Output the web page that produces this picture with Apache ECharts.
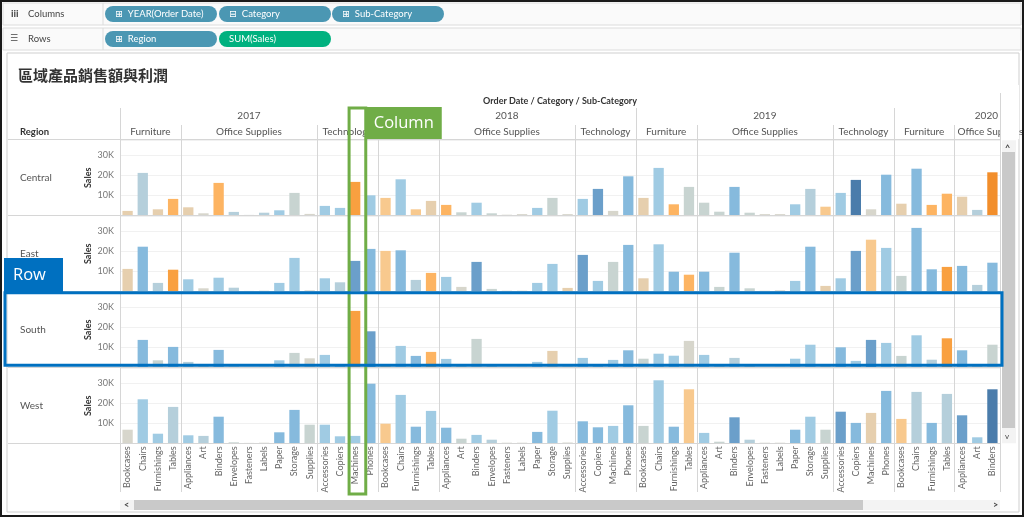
<!DOCTYPE html>
<html><head><meta charset="utf-8">
<script src="https://cdn.jsdelivr.net/npm/echarts@6/dist/echarts.min.js"></script>
<style>html,body{margin:0;padding:0;background:#fff}#c{width:1024px;height:517px}</style>
</head><body><div id="c"></div>
<script>
// ---------------- data ----------------
const years = ['2017', '2018', '2019', '2020'];
const furnitureSubs = ['Bookcases', 'Chairs', 'Furnishings', 'Tables'];
const officeSubs = ['Appliances', 'Art', 'Binders', 'Envelopes', 'Fasteners', 'Labels', 'Paper', 'Storage', 'Supplies'];
const techSubs = ['Accessories', 'Copiers', 'Machines', 'Phones'];
const categoryGroups = [['Furniture', furnitureSubs], ['Office Supplies', officeSubs], ['Technology', techSubs]];
const regions = ['Central', 'East', 'South', 'West'];
const visibleColumnCount = 58; // view is scrolled: 2017-2019 full, 2020 up to Binders
const yTickLabels = ['10K', '20K', '30K'];
const yMax = 37500;

// Sales per visible column (2017 x17, 2018 x17, 2019 x17, 2020 x7)
const salesCentral = [
  2200, 21200, 3000, 8200, 4000, 1000, 16200, 1700, 200, 1300, 2500, 11200, 700, 4700, 3700, 16700, 10000,
  8700, 18000, 3000, 7200, 5200, 1500, 6300, 1000, 300, 600, 3700, 8700, 600, 8200, 13200, 2200, 19500,
  8700, 23700, 5500, 14200, 6300, 1800, 14200, 1300, 600, 600, 5500, 13200, 4300, 11200, 17700, 3000, 20300,
  5800, 23300, 5200, 10800, 9300, 2700, 21500];
const salesEast = [
  11200, 22300, 4200, 10800, 6000, 1500, 6800, 1800, 200, 300, 4200, 16700, 500, 6500, 4500, 15200, 21200,
  20200, 20500, 5700, 9200, 7200, 2200, 14700, 1200, 300, 300, 4200, 13700, 1700, 18200, 5200, 14700, 23200,
  6500, 23500, 9800, 8300, 9800, 2200, 19300, 1500, 300, 500, 5200, 22300, 2700, 6500, 20200, 25800, 21700,
  7700, 31700, 11000, 12200, 12700, 3200, 14300];
const salesSouth = [
  500, 13700, 3500, 10200, 2700, 800, 8700, 500, 200, 300, 3500, 7200, 4500, 6200, 1000, 28200, 18000,
  1000, 10700, 5700, 7700, 4200, 1000, 14200, 700, 200, 300, 2700, 8200, 500, 4700, 1000, 3700, 8500,
  4300, 6800, 5800, 13200, 6200, 1000, 4700, 700, 200, 300, 4300, 11300, 800, 10000, 3200, 13700, 12200,
  5700, 16000, 3800, 14500, 8500, 1000, 11300];
const salesWest = [
  6800, 22000, 4800, 18200, 4000, 3700, 13300, 500, 200, 300, 5500, 16700, 9300, 9300, 3500, 3700, 29800,
  9800, 24200, 8300, 16200, 7800, 2300, 4200, 1800, 300, 300, 5700, 16300, 400, 11000, 8000, 8700, 19000,
  8700, 31500, 8300, 27000, 5200, 800, 13000, 1800, 300, 300, 6800, 13300, 6800, 15800, 10200, 15200, 26200,
  12200, 25700, 10200, 24700, 14000, 3000, 27000];

// Profit level (negative = orange, positive = blue)
const profitCentral = [
  -1, 2, -1, -3, -1, 0, -3, 2, 1, 2, 3, 1, 0, 3, 3, -4, 3,
  -2, 3, -2, -1, -3, 1, 3, 1, 0, 0, 3, 1, 0, 3, 5, 0, 4,
  -1, 3, -3, 1, 1, 1, 4, 1, 0, 0, 3, 2, -2, 3, 6, 0, 4,
  -1, 4, -3, -3, -1, 2, -5];
const profitEast = [
  -1, 4, 2, -4, 3, 0, 3, 2, 1, 1, 3, 3, 0, 3, 2, 5, 4,
  -2, 4, 2, -3, 3, 0, 5, 1, 0, 0, 3, 3, -1, 5, 3, 1, 4,
  -1, 3, 4, -3, 4, 1, 4, 1, 0, 0, 3, 4, -1, 3, 5, -2, 3,
  1, 4, 4, -4, 4, 2, 4];
const profitSouth = [
  0, 4, 1, 4, 2, 0, 4, 1, 0, 0, 3, 1, 0, 3, 3, -4, 5,
  -2, 3, 4, -3, 3, 1, 1, 1, 0, 0, 3, -1, 0, 3, 3, 3, 4,
  1, 3, 3, 0, 3, 1, 2, 1, 0, 0, 3, 3, 0, 4, 3, 5, 3,
  1, 3, 2, -4, 4, 1, 1];
const profitWest = [
  0, 3, 3, 2, 3, 2, 4, 1, 0, 0, 4, 4, 1, 3, 3, 3, 4,
  -2, 3, 4, 3, 4, 1, 3, 2, 0, 0, 4, 3, 0, 4, 4, 3, 4,
  1, 3, 4, -2, 3, 1, 5, 2, 0, 0, 4, 3, 1, 5, 4, -1, 4,
  -2, 2, 4, 2, 5, 3, 6];
const profitMin = -5, profitMax = 6;
const profitColors = ['#f28e2b', '#f9a040', '#fdb462', '#f8c98e', '#e6cfae', '#d7d6cc',
  '#c8d4d1', '#b5cfdb', '#a0cbe3', '#86badd', '#6b9fca', '#4a7cab'];

const salesByRegion = [salesCentral, salesEast, salesSouth, salesWest];
const profitByRegion = [profitCentral, profitEast, profitSouth, profitWest];

// ---------------- build ----------------
const allColumns = [];
years.forEach(y => categoryGroups.forEach(([cat, subs]) => subs.forEach(s => allColumns.push({ year: y, cat, sub: s }))));
const columns = allColumns.slice(0, visibleColumnCount);
const keys = columns.map(c => c.year + '|' + c.cat + '|' + c.sub);

const FONT = 'Lato, "Noto Sans", "DejaVu Sans", sans-serif';
const plotLeft = 120, plotWidth = 880, firstTop = 140.3, rowStep = 76, rowHeight = 75;

const chart = echarts.init(document.getElementById('c'));
const option = {
  animation: false,
  backgroundColor: '#ffffff',
  textStyle: { fontFamily: FONT },
  grid: regions.map((r, i) => ({ left: plotLeft, width: plotWidth, top: firstTop + i * rowStep, height: rowHeight })),
  xAxis: regions.map((r, i) => ({
    gridIndex: i, type: 'category', data: keys,
    axisLine: { show: false }, axisTick: { show: false }, splitLine: { show: false },
    axisLabel: {
      show: i === regions.length - 1, interval: 0, rotate: 90, fontSize: 9, color: '#666', margin: 3,
      fontFamily: FONT, formatter: k => k.split('|')[2]
    }
  })),
  yAxis: regions.map((r, i) => ({
    gridIndex: i, type: 'value', min: 0, max: yMax, interval: 10000,
    name: 'Sales', nameLocation: 'middle', nameGap: 27, nameRotate: 90, nameMoveOverlap: false,
    nameTextStyle: { fontWeight: 'bold', fontSize: 9, color: '#333', fontFamily: FONT },
    axisLine: { show: false }, axisTick: { show: false },
    axisLabel: {
      fontSize: 9, color: '#777', margin: 6, showMinLabel: false, showMaxLabel: false, fontFamily: FONT,
      formatter: v => { const k = yTickLabels.indexOf((v / 1000) + 'K'); return k >= 0 ? yTickLabels[k] : ''; }
    },
    splitLine: { lineStyle: { color: '#f1f1f1', width: 1 } }
  })),
  visualMap: {
    type: 'continuous', show: false, dimension: 2, min: profitMin, max: profitMax,
    seriesIndex: regions.map((r, i) => i), inRange: { color: profitColors }
  },
  series: regions.map((r, i) => ({
    name: r, type: 'bar', xAxisIndex: i, yAxisIndex: i, barWidth: '68%',
    encode: { x: 0, y: 1 },
    data: salesByRegion[i].map((v, j) => [j, v, profitByRegion[i][j]])
  }))
};
chart.setOption(option);

// ---------------- overlay (header, shelves, annotations) ----------------
function txt(text, x, y, o) {
  o = o || {};
  return {
    type: 'text', z: o.z || 10, silent: true,
    style: {
      text, x, y, fill: o.fill || '#555', fontSize: o.size || 10, fontWeight: o.bold ? 'bold' : 'normal',
      fontFamily: o.font || FONT, textAlign: o.align || 'left', align: o.align || 'left',
      textVerticalAlign: 'middle', verticalAlign: 'middle'
    }
  };
}
function line(x1, y1, x2, y2, color, w, z) {
  return { type: 'line', z: z || 5, silent: true, shape: { x1, y1, x2, y2 }, style: { stroke: color, lineWidth: w || 1 } };
}
function rect(x, y, w, h, fill, stroke, lw, z, r) {
  return { type: 'rect', z: z || 1, silent: true, shape: { x, y, width: w, height: h, r: r || 0 },
    style: { fill: fill || 'none', stroke: stroke || 'none', lineWidth: lw || 1 } };
}
function spans(keyFn) {
  const out = [];
  columns.forEach((c, j) => {
    const k = keyFn(c);
    if (!out.length || out[out.length - 1].key !== k) out.push({ key: k, start: j, end: j, c });
    else out[out.length - 1].end = j;
  });
  out.forEach(s => {
    const nxt = allColumns[s.end + 1];
    s.truncated = s.end === columns.length - 1 && nxt && keyFn(nxt) === s.key;
  });
  return out;
}

function buildOverlay() {
  const band = chart.convertToPixel({ xAxisIndex: 0 }, 1) - chart.convertToPixel({ xAxisIndex: 0 }, 0);
  const edge = j => chart.convertToPixel({ xAxisIndex: 0 }, j) - band / 2;
  const rightEdge = edge(columns.length - 1) + band;
  const rowTop = i => chart.convertToPixel({ yAxisIndex: i }, yMax);
  const rowBase = i => chart.convertToPixel({ yAxisIndex: i }, 0);
  const labelBottom = 492;
  const g = [];

  // frames & shelves
  g.push(rect(1, 1, 1022, 515, 'none', '#1a1a1a', 2, 30));
  g.push(rect(3, 3, 1018, 22, '#fafafa', '#dcdcdc', 1, 0));
  g.push(rect(3, 28, 1018, 22, '#fafafa', '#dcdcdc', 1, 0));
  g.push(line(103, 3, 103, 25, '#dcdcdc'));
  g.push(line(103, 28, 103, 50, '#dcdcdc'));
  g.push(rect(7, 53, 1012, 459, 'none', '#cfcfcf', 1, 0));
  g.push(txt('iii', 11, 14, { fill: '#444', size: 10, bold: true }));
  g.push(txt('Columns', 28, 14, { fill: '#444', size: 9.5 }));
  g.push(txt('\u2630', 10, 39, { fill: '#444', size: 9, font: '"DejaVu Sans"' }));
  g.push(txt('Rows', 28, 39, { fill: '#444', size: 9.5 }));
  const pills = [
    ['\u229E  YEAR(Order Date)', 105, 6, '#4b97b3'], ['\u229F  Category', 219, 6, '#4b97b3'], ['\u229E  Sub-Category', 332, 6, '#4b97b3'],
    ['\u229E  Region', 105, 31, '#4b97b3'], ['SUM(Sales)', 219, 31, '#00b17f']
  ];
  pills.forEach(([t, x, y, c]) => {
    g.push(rect(x, y, 112, 16, c, 'none', 1, 2, 8));
    g.push(txt(t, x + 10, y + 8, { fill: '#ffffff', size: 9.5, z: 12, font: 'Lato, "DejaVu Sans", sans-serif' }));
  });

  // title
  g.push(txt('區域產品銷售額與利潤', 18, 75, { fill: '#333', size: 15, bold: true, font: '"Noto Sans CJK TC", sans-serif' }));

  // headers
  g.push(txt('Order Date / Category / Sub-Category', (plotLeft + rightEdge) / 2, 101, { fill: '#333', size: 9, bold: true, align: 'center' }));
  g.push(txt('Region', 20, 132, { fill: '#333', size: 9.5, bold: true }));
  spans(c => c.year).forEach(s => {
    if (s.truncated) g.push(txt(s.c.year, rightEdge - 2, 116, { size: 10, align: 'right' }));
    else g.push(txt(s.c.year, (edge(s.start) + edge(s.end) + band) / 2, 116, { size: 10, align: 'center' }));
  });
  spans(c => c.year + '|' + c.cat).forEach(s => {
    if (s.truncated) g.push(txt(s.c.cat, edge(s.start) + 3, 132, { size: 10 }));
    else g.push(txt(s.c.cat, (edge(s.start) + edge(s.end) + band) / 2, 132, { size: 10, align: 'center' }));
    const yearStart = s.start === 0 || columns[s.start - 1].year !== s.c.year;
    const x = Math.round(edge(s.start)) + 0.5;
    g.push(line(x, yearStart ? 108 : 125, x, labelBottom, '#d6d6d6'));
  });
  // cover anything in the header that runs past the visible view edge
  g.push(rect(Math.round(rightEdge) + 1, 85, 18, 54, '#ffffff', 'none', 1, 20));
  g.push(line(Math.round(rightEdge) + 0.5, 93, Math.round(rightEdge) + 0.5, labelBottom, '#d6d6d6', 1, 21));
  g.push(line(8, 139.5, rightEdge, 139.5, '#d6d6d6'));

  // region rows
  regions.forEach((r, i) => {
    const yb = Math.round(rowBase(i)) + 0.5;
    g.push(line(8, yb, rightEdge, yb, '#d6d6d6'));
    g.push(txt(r, 20, (rowTop(i) + rowBase(i)) / 2, { size: 10, fill: '#555' }));
  });

  // scrollbars
  g.push(rect(plotLeft, 500, rightEdge - plotLeft, 10, '#f3f3f3', 'none', 1, 1));
  g.push(rect(134, 500, 729, 10, '#c9c9c9', 'none', 1, 2));
  g.push(txt('<', 124, 505, { size: 9, fill: '#444', bold: true }));
  g.push(txt('>', 993, 505, { size: 9, fill: '#444', bold: true }));
  g.push(rect(1002, rowTop(0), 14, rowBase(3) - rowTop(0), '#f3f3f3', 'none', 1, 1));
  g.push(rect(1002, 152, 13, 276, '#c9c9c9', 'none', 1, 2));
  g.push(txt('^', 1005, 148, { size: 9, fill: '#444', bold: true }));
  g.push(txt('v', 1005, 436, { size: 8, fill: '#444' }));

  // annotations
  const mx = edge(15);
  g.push(rect(mx + 1.5, 108, band + 1.5, labelBottom + 2 - 108, 'none', '#70ad47', 3, 100));
  g.push(rect(mx + band + 3, 107, 76, 32, '#70ad47', 'none', 1, 100));
  g.push(txt('Column', mx + band + 41, 123.5, { fill: '#ffffff', size: 16.5, align: 'center', z: 101, font: '"Open Sans", sans-serif' }));
  const sTop = rowTop(2), sBase = rowBase(2);
  g.push(rect(5, sTop + 0.5, rightEdge - 3, sBase - sTop - 2.5, 'none', '#0070c0', 3, 100));
  g.push(rect(4, 258, 59, sTop - 258, '#0070c0', 'none', 1, 100));
  g.push(txt('Row', 13, 275, { fill: '#ffffff', size: 16.5, z: 101, font: '"Open Sans", sans-serif' }));

  chart.setOption({ graphic: { elements: g } });
}
buildOverlay();
</script>
</body></html>
